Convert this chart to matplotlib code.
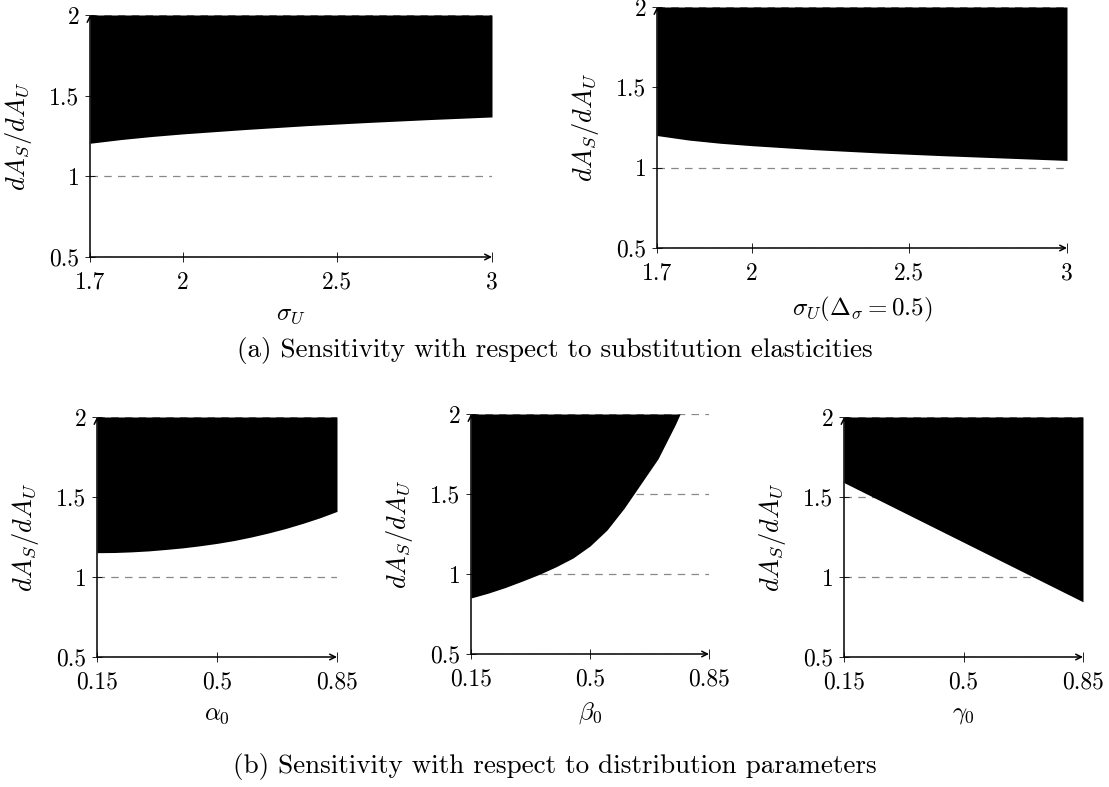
import matplotlib
matplotlib.use("Agg")
import matplotlib.pyplot as plt

plt.rcParams['font.family'] = 'serif'
plt.rcParams['font.serif'] = ['cmr10', 'DejaVu Serif']
plt.rcParams['mathtext.fontset'] = 'cm'
plt.rcParams['axes.formatter.use_mathtext'] = True

# data: lower edge of the black region (region goes up to 2)
sigma_u = [1.7, 1.8, 1.9, 2.0, 2.2, 2.4, 2.6, 2.8, 3.0]
lower_sigma = [1.205, 1.228, 1.247, 1.263, 1.29, 1.314, 1.334, 1.352, 1.368]
lower_sigma_delta = [1.20, 1.172, 1.152, 1.137, 1.112, 1.092, 1.075, 1.060, 1.045]

alpha0 = [0.15, 0.2, 0.25, 0.3, 0.35, 0.4, 0.45, 0.5, 0.55, 0.6, 0.65, 0.7, 0.75, 0.8, 0.85]
lower_alpha = [1.152, 1.153, 1.157, 1.163, 1.172, 1.182, 1.195, 1.21, 1.228, 1.25, 1.275,
               1.303, 1.335, 1.37, 1.41]

beta0 = [0.15, 0.2, 0.25, 0.3, 0.35, 0.4, 0.45, 0.5, 0.55, 0.6, 0.65, 0.7, 0.75, 0.765]
lower_beta = [0.85, 0.88, 0.915, 0.955, 0.997, 1.045, 1.10, 1.175, 1.275, 1.41, 1.565,
              1.72, 1.93, 2.0]

gamma0 = [0.15, 0.85]
lower_gamma = [1.59, 0.845]

ylabel = r'$dA_S/dA_U$'
yticks = [0.5, 1, 1.5, 2]
ytick_labels = ['0.5', '1', '1.5', '2']

W, H = 1109, 787
fig = plt.figure(figsize=(W / 100, H / 100), dpi=100)


def make_axes(left, right, top, bottom):
    # pixel box -> figure fraction
    return fig.add_axes([left / W, 1 - bottom / H, (right - left) / W, (bottom - top) / H])


def style(ax, xlim, xticks, xtick_labels, xlabel):
    ax.set_xlim(xlim)
    ax.set_ylim(0.5, 2)
    ax.set_xticks(xticks)
    ax.set_xticklabels(xtick_labels)
    ax.set_yticks(yticks)
    ax.set_yticklabels(ytick_labels)
    ax.tick_params(direction='inout', length=7, width=0.6, labelsize=17, pad=4)
    ax.tick_params(axis='x', pad=7)
    for s in ax.spines.values():
        s.set_visible(False)
    ax.grid(axis='y', color='#888888', linestyle=(0, (6, 5)), linewidth=0.9)
    ax.set_axisbelow(True)
    ax.annotate('', xy=(1, 0), xytext=(0, 0), xycoords='axes fraction',
                arrowprops=dict(arrowstyle='->', color='black', lw=1.1, shrinkA=0, shrinkB=0))
    ax.annotate('', xy=(0, 1), xytext=(0, 0), xycoords='axes fraction',
                arrowprops=dict(arrowstyle='->', color='black', lw=1.1, shrinkA=0, shrinkB=0))
    ax.set_xlabel(xlabel, fontsize=18, labelpad=7)
    ax.set_ylabel(ylabel, fontsize=19, labelpad=11)


# (a) substitution elasticities
ax1 = make_axes(90, 492, 15, 257)
ax1.fill_between(sigma_u, lower_sigma, 2, color='black', lw=0, zorder=2)
style(ax1, (1.7, 3), [1.7, 2, 2.5, 3], ['1.7', '2', '2.5', '3'], r'$\sigma_U$')

ax2 = make_axes(657, 1067, 7, 248)
ax2.fill_between(sigma_u, lower_sigma_delta, 2, color='black', lw=0, zorder=2)
style(ax2, (1.7, 3), [1.7, 2, 2.5, 3], ['1.7', '2', '2.5', '3'], r'$\sigma_U(\Delta_\sigma=0.5)$')

# (b) distribution parameters
pticks = [0.15, 0.5, 0.85]
plabels = ['0.15', '0.5', '0.85']

ax3 = make_axes(97, 337, 417, 657)
ax3.fill_between(alpha0, lower_alpha, 2, color='black', lw=0, zorder=2)
style(ax3, (0.15, 0.85), pticks, plabels, r'$\alpha_0$')

ax4 = make_axes(471, 709, 414, 654)
ax4.fill_between(beta0, lower_beta, 2, color='black', lw=0, zorder=2)
style(ax4, (0.15, 0.85), pticks, plabels, r'$\beta_0$')

ax5 = make_axes(844, 1083, 417, 657)
ax5.fill_between(gamma0, lower_gamma, 2, color='black', lw=0, zorder=2)
style(ax5, (0.15, 0.85), pticks, plabels, r'$\gamma_0$')

fig.text(555 / W, 1 - 350 / H, '(a) Sensitivity with respect to substitution elasticities',
         ha='center', va='center', fontsize=19.5)
fig.text(555 / W, 1 - 767 / H, '(b) Sensitivity with respect to distribution parameters',
         ha='center', va='center', fontsize=19.5)

fig.savefig('out.png', dpi=100)
